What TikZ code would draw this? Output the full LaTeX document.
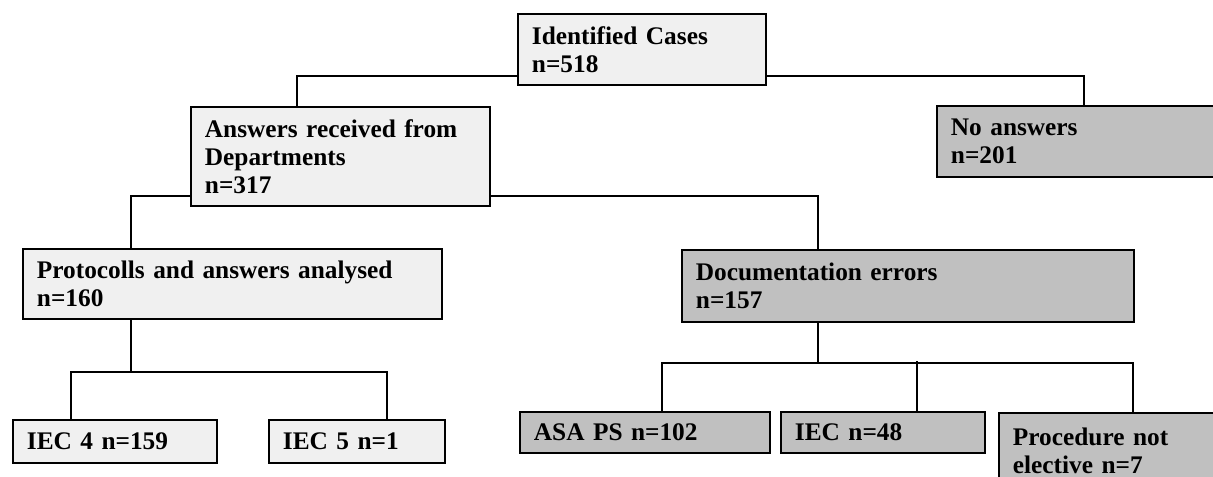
\documentclass[tikz,border=0pt]{standalone}
\usepackage{fontspec}
\setmainfont{Liberation Serif}
\usetikzlibrary{calc}
\definecolor{lightfill}{HTML}{F0F0F0}
\definecolor{darkfill}{HTML}{C0C0C0}
\tikzset{
    cell/.style={draw, line width=1.4pt, anchor=north west, align=left,
        inner xsep=10.5pt, inner ysep=0pt,
        font=\bfseries\fontsize{19}{21}\selectfont},
    light/.style={cell, fill=lightfill},
    dark/.style={cell, fill=darkfill},
}
\begin{document}
\begin{tikzpicture}[x=0.75pt,y=-0.75pt,line width=1pt]
    \useasboundingbox (0,0) rectangle (1213,477);
    \clip (0,0) rectangle (1213,477);

    \node[light, text width=165pt, minimum height=53.25pt] (A) at (517,13) {Identified Cases\\n=518};
    \node[light, text width=203.25pt, minimum height=74.25pt] (A1) at (190,106) {Answers received from\\Departments\\n=317};
    \node[dark, text width=204pt, minimum height=53.25pt] (A2) at (936,105) {No answers\\n=201};

    \node[light, text width=293.25pt, minimum height=52.5pt] (B1) at (22,248) {Protocolls and answers analysed\\n=160};
    \node[dark, text width=318pt, minimum height=54pt] (B2) at (681,249) {Documentation errors\\n=157};

    \node[light, text width=132pt, minimum height=32.25pt] (E1) at (12,419) {IEC 4 n=159};
    \node[light, text width=111pt, minimum height=32.25pt] (E2) at (268,419) {IEC 5 n=1};

    \node[dark, text width=166.5pt, minimum height=30.75pt] (D1) at (519,411) {ASA PS n=102};
    \node[dark, text width=132pt, minimum height=30.75pt] (D2) at (780,411) {IEC n=48};
    \node[dark, text width=159pt, minimum height=57pt] (D3) at (998,412) {Procedure not\\elective n=7};

    \draw[-] ($(A.south west)+(0,-10)$) -| ($(A1.north)+(-43.5,0)$);
    \draw[-] ($(A.south east)+(0,-10)$) -| ($(A2.north west)+(148,0)$);
    \draw[-] ($(A1.south west)+(0,-11)$) -| ($(B1.north west)+(109,0)$);
    \draw[-] ($(A1.south east)+(0,-11)$) -| ($(B2.north west)+(137,0)$);

    \coordinate (P) at ($(B1.south west)+(109,52)$);
    \draw[-] ($(B1.south west)+(109,0)$) -- (P);
    \draw[-] ($(E1.north west)+(59,0)$) |- (P) -| ($(E2.north west)+(119,0)$);

    \coordinate (Q) at ($(B2.south west)+(137,40)$);
    \draw[-] ($(B2.south west)+(137,0)$) -- (Q);
    \draw[-] ($(D1.north west)+(143,0)$) |- (Q) -| ($(D3.north west)+(135,0)$);
    \draw[-] ($(D2.north west)+(137,0)$) -- ($(D2.north west)+(137,-50)$);

\end{tikzpicture}
\end{document}
